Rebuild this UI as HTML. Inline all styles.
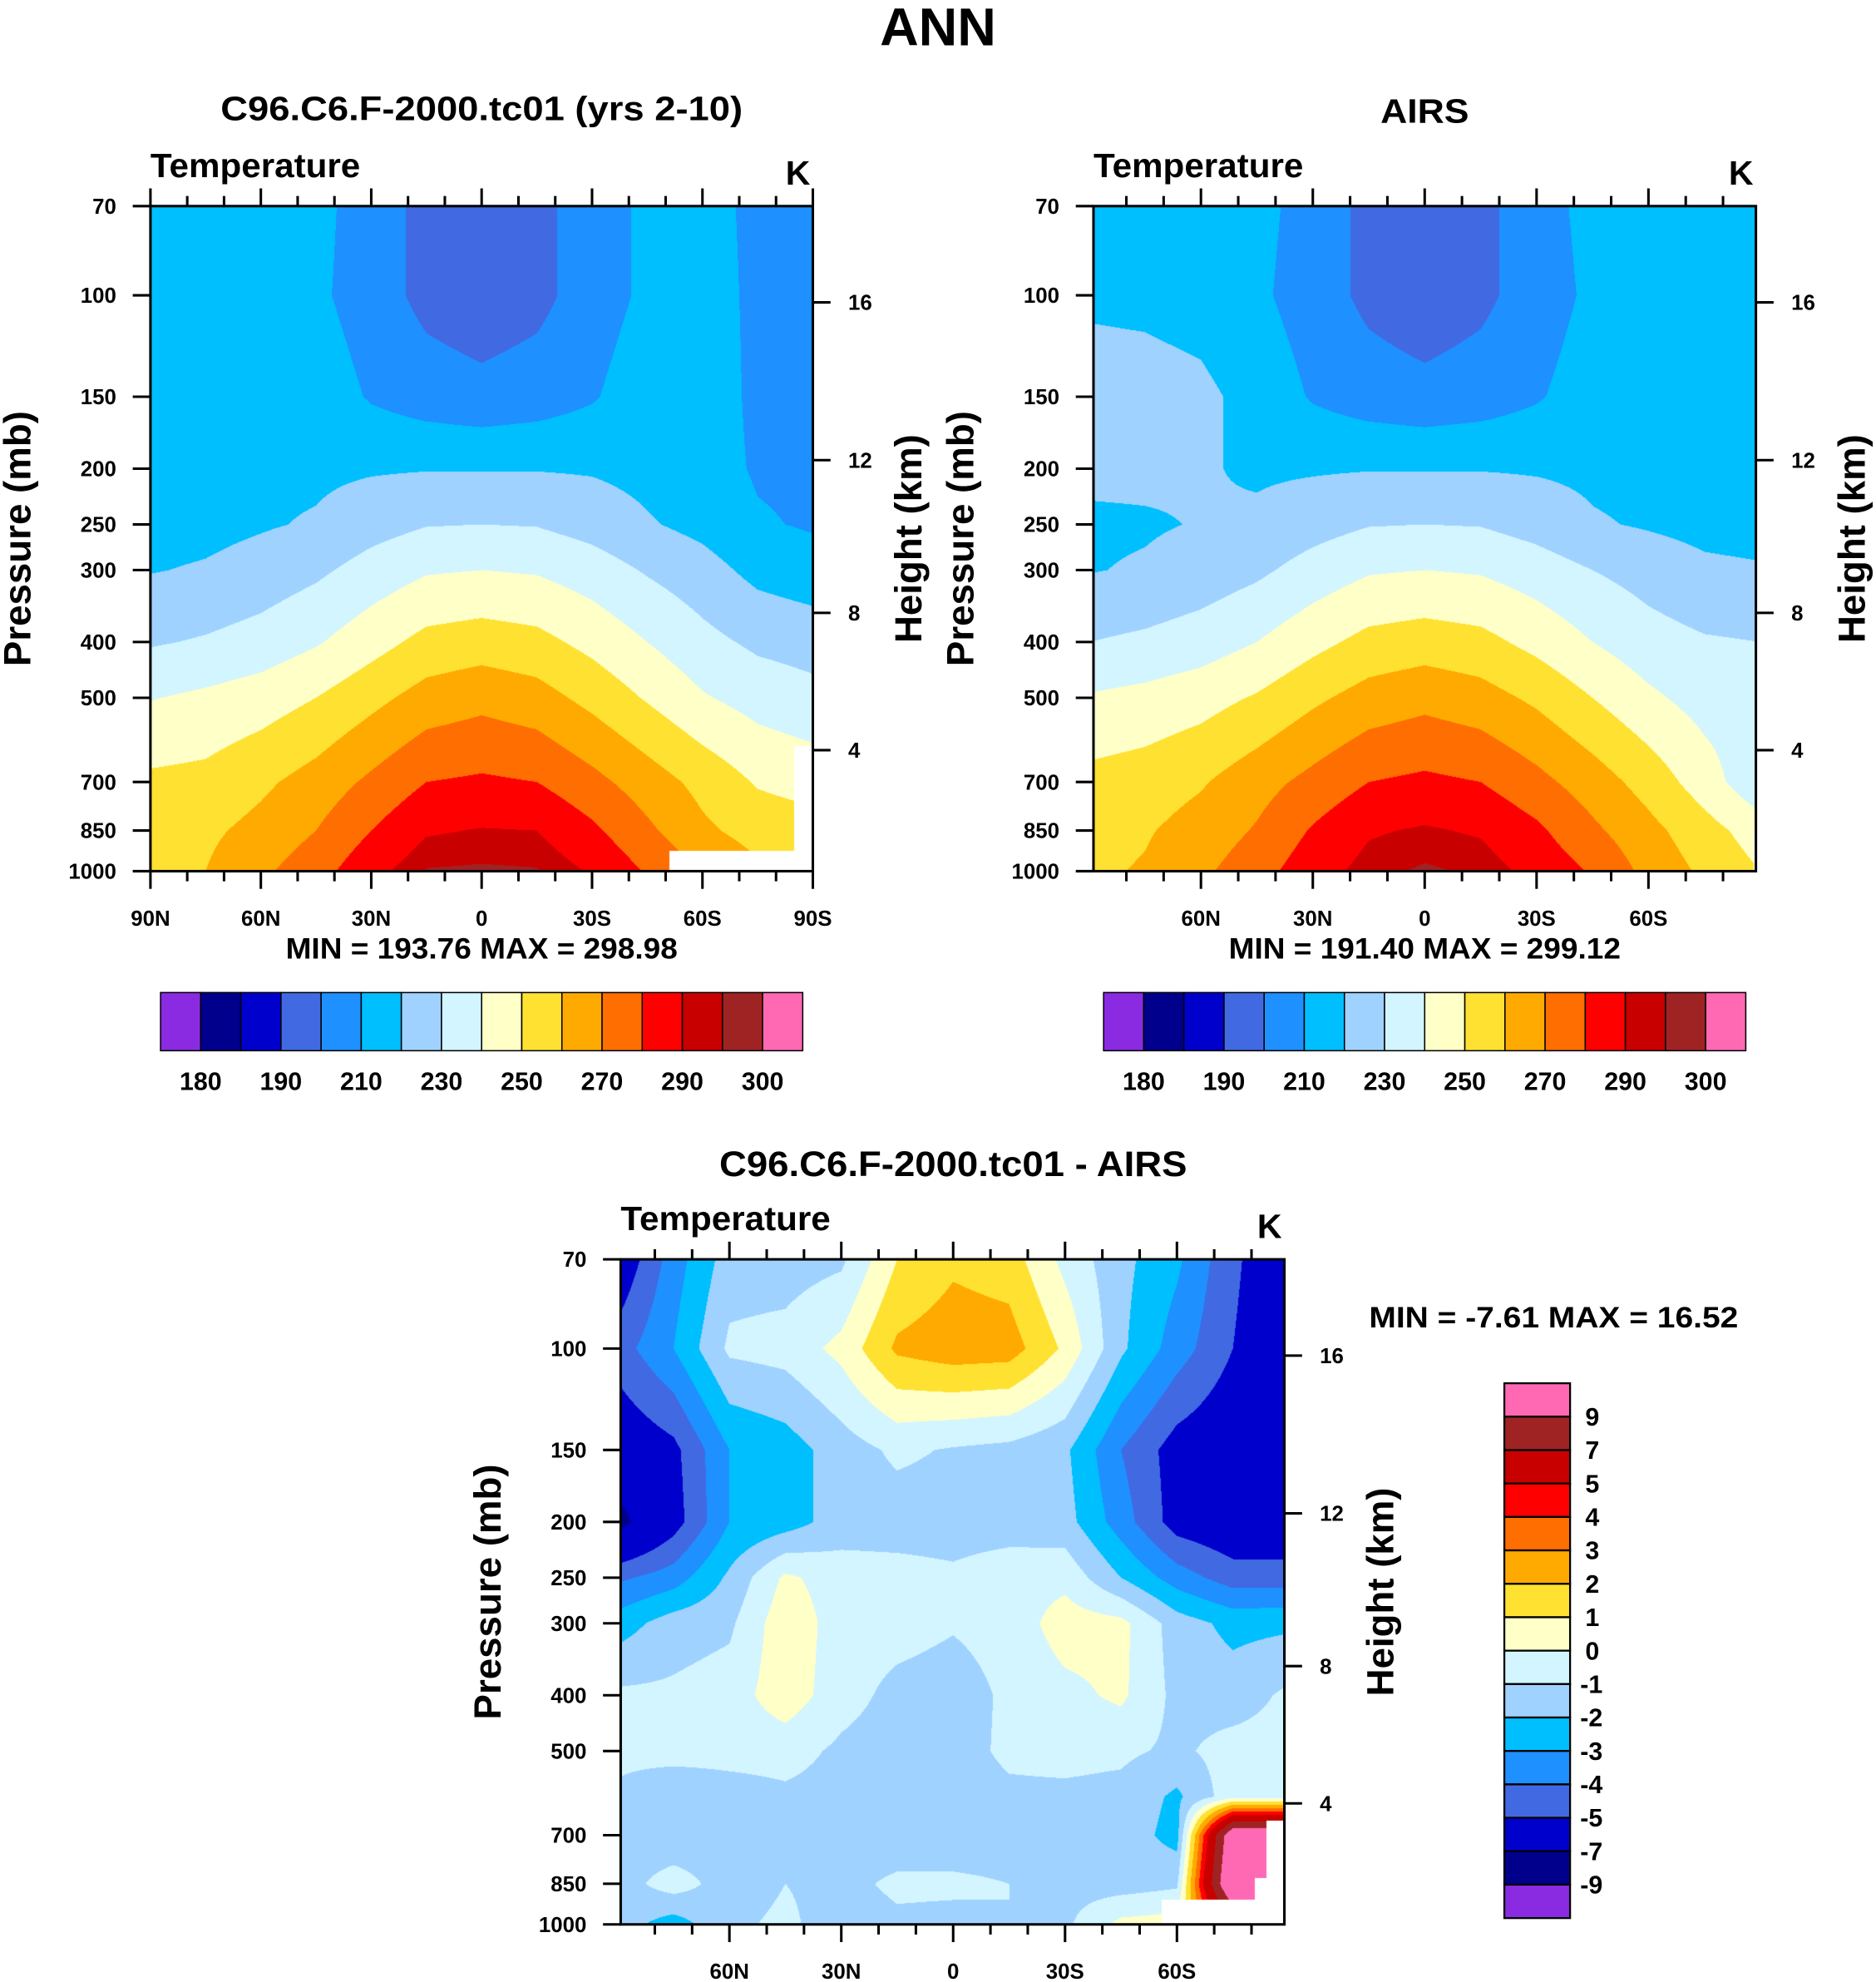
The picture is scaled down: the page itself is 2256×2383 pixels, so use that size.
<!DOCTYPE html>
<html><head><meta charset="utf-8">
<style>
html,body{margin:0;padding:0;background:#fff;}
#wrap{position:relative;width:2256px;height:2383px;overflow:hidden;background:#fff;}
canvas{position:absolute;}
svg{position:absolute;left:0;top:0;}
text{font-family:"Liberation Sans",sans-serif;font-weight:bold;fill:#000;}
</style></head>
<body>
<div id="wrap">
<canvas id="c1"></canvas>
<canvas id="c2"></canvas>
<canvas id="c3"></canvas>
<svg id="svg" width="2256" height="2383" viewBox="0 0 1484 1567.55">
<text x="742" y="36" font-size="42" text-anchor="middle" textLength="92" lengthAdjust="spacingAndGlyphs">ANN</text>
<text x="381" y="95" font-size="27" text-anchor="middle" textLength="413" lengthAdjust="spacingAndGlyphs">C96.C6.F-2000.tc01 (yrs 2-10)</text>
<text x="1127" y="97" font-size="27" text-anchor="middle" textLength="70" lengthAdjust="spacingAndGlyphs">AIRS</text>
<text x="754" y="930" font-size="28" text-anchor="middle" textLength="370" lengthAdjust="spacingAndGlyphs">C96.C6.F-2000.tc01 - AIRS</text>
<text x="381" y="758" font-size="23" text-anchor="middle" textLength="310" lengthAdjust="spacingAndGlyphs">MIN = 193.76  MAX = 298.98</text>
<text x="1127" y="758" font-size="23" text-anchor="middle" textLength="310" lengthAdjust="spacingAndGlyphs">MIN = 191.40  MAX = 299.12</text>
<text x="1083" y="1050" font-size="23" textLength="292" lengthAdjust="spacingAndGlyphs">MIN =  -7.61  MAX =  16.52</text>
</svg>
</div>
<script>
// ---------- data ----------
const levels = [70,100,150,200,250,300,400,500,700,850,1000];
const diffLevels = [70,100,150,200,250,300,400,500,600,700,850,1000];
const lats = [90,75,60,45,30,15,0,-15,-30,-45,-60,-75,-90];
const tempBounds = [180,185,190,200,210,220,230,240,250,260,270,280,290,295,300];
const tempLabels = [180,190,210,230,250,270,290,300];
const diffBounds = [-9,-7,-5,-4,-3,-2,-1,0,1,2,3,4,5,7,9];
const diffLabels = [9,7,5,4,3,2,1,0,-1,-2,-3,-4,-5,-7,-9];
const palette = ["#8A2BE2","#00008C","#0000CD","#4169E1","#1E90FF","#00BFFF","#A0D2FF","#D2F5FF","#FFFFC8","#FFE132","#FFAA00","#FF6E00","#FF0000","#C80000","#A02323","#FF69B4"];
// model temperature (rows = levels, cols = lats)
const modelT70  = [215,215,215,213,205,197,195,197,205,212,213,208,207];
const modelT100 = [216,216,216,212,205,197,194,197,205,212,214,208,207];
const modelT150 = [217,217,217,216,209,205,203,205,209,216,215,208,207];
const modelT200 = [218,218,218,218,219,219.5,219.5,219.5,219,217,214,209,208];
const modelT250 = [216,217,219,221,226,229.5,230,229.5,226,221,217,211,209];
const modelT300 = [219.5,221,224,228,234,239,240,239,235,229,224,217,214];
const modelT400 = [229,231,234,239,246,253,255,253,247,240,233,228,226];
const modelT500 = [239.5,242,245,250,257,264,267,264,257,249,241,236,233];
const modelT700 = [252,253,258,264,272,280,281.5,280,273,265,257,249,246];
const modelT850 = [255,258,263,270,280,289,290.5,290,282,272,262,256,254];
const modelT1000= [256,260,268,276,287,295.5,296,295.5,289,279,270,262,258];
// AIRS temperature
const airsT70  = [215,215,215,213,206,197,195,197,206,213,215,215,211];
const airsT100 = [218.5,218,216.5,212,205,197.5,194,197.5,205,212,216,214,210];
const airsT150 = [224,223.5,222,217,209,205,203,205,209,215,218,216,214];
const airsT200 = [222,222,221,218.5,219,219.5,219.5,219.5,219,218,217,216,215];
const airsT250 = [218.5,219,220.5,222,226,229.5,230,229.5,226,221,219,217,216];
const airsT300 = [219.5,221,224,228,234,239,240,239,235,230,226,222,221];
const airsT400 = [230,232,235,240,247,253,255,253,247,240,234,231,230];
const airsT500 = [241,243,246,251,258,264,267,264,258,250,242,236,235];
const airsT700 = [253,255,259,266,273,280,282,280,273,265,256,245,232];
const airsT850 = [256,259,264,271,281,289,291,289,282,272,263,254,245];
const airsT1000= [258,261,268,276,286,293,296,294,287,279,267,258,250];
// difference model - AIRS
const diff70  = [-6,-3.5,-1.5,-1.5,-1.2,1.0,1.8,1.5,-0.3,-1.7,-2.8,-4.8,-6];
const diff100 = [-4.5,-3,-0.8,-0.6,0.3,2.2,2.6,2.5,0.8,-1.8,-3.5,-5,-6];
const diff150 = [-6,-5.3,-3,-2.5,-1.5,-0.8,-1.1,-1.3,-1.8,-4,-5.5,-6,-6];
const diff200 = [-7.5,-5.5,-3,-2.5,-1.5,-1.5,-1.5,-1.5,-1.6,-3.5,-5.5,-6,-6];
const diff250 = [-4.2,-3.5,-1.8,0.2,-0.5,-0.6,-0.8,-0.4,-0.3,-2,-3.5,-4.5,-4.5];
const diff300 = [-2.5,-1.5,-1.2,0.7,-0.5,-0.6,-0.9,-0.6,0.5,0.3,-1.5,-2.3,-2.2];
const diff400 = [-0.8,-0.8,-0.5,0.6,-0.6,-1.3,-1.5,-0.8,-0.3,0.2,-1.3,-1.5,-0.8];
const diff500 = [-0.7,-0.5,-0.6,-0.6,-1.2,-1.5,-1.4,-0.8,-0.7,-0.8,-1.2,-0.6,-0.6];
const diff600 = [-1.2,-2,-1.5,-1.2,-1.4,-1.5,-1.5,-1.2,-1.2,-1.3,-2.2,-0.4,-0.4];
const diff700 = [-1.5,-1.8,-1.5,-1.2,-1.5,-1.6,-1.6,-1.5,-1.4,-1.4,-2.4,11,11];
const diff850 = [-1.5,-0.5,-1.5,-1.0,-1.3,-0.8,-0.8,-1.0,-1.4,-1.5,-1.2,12,12];
const diff1000= [-1.5,-2.5,-1.2,-0.8,-1.5,-1.2,-1.3,-1.0,-1.2,0.3,0.5,6,6];
// missing-data regions [latNorth, latSouth, pTop, pBottom]
const modelMissing = [[-51,-90,922,1000],[-85,-90,606,1000]];
const airsMissing = [[-88.3,-90,850,1000]];
const diffMissing = [[-56,-90,905,1000],[-84,-90,660,1000],[-81,-90,830,1000]];

const modelGrid=[modelT70,modelT100,modelT150,modelT200,modelT250,modelT300,modelT400,modelT500,modelT700,modelT850,modelT1000];
const airsGrid=[airsT70,airsT100,airsT150,airsT200,airsT250,airsT300,airsT400,airsT500,airsT700,airsT850,airsT1000];
const diffGrid=[diff70,diff100,diff150,diff200,diff250,diff300,diff400,diff500,diff600,diff700,diff850,diff1000];

// ---------- rendering ----------
const S = 2256/1484;
const NS="http://www.w3.org/2000/svg";
const svg=document.getElementById('svg');
const L=Math.log(1000/70);
function mk(tag,attrs,txt){const e=document.createElementNS(NS,tag);for(const k in attrs)e.setAttribute(k,attrs[k]);if(txt!==undefined)e.textContent=txt;svg.appendChild(e);return e;}

const panels=[
 {id:'c1',name:'model',x0:119,x1:643,y0:163,y1:689,xN:119,xS:643,grid:modelGrid,lev:levels,bounds:tempBounds,miss:modelMissing},
 {id:'c2',name:'airs',x0:865,x1:1389,y0:163,y1:689,xN:861.5,xS:1392.5,grid:airsGrid,lev:levels,bounds:tempBounds,miss:airsMissing},
 {id:'c3',name:'difference',x0:491,x1:1016,y0:996,y1:1522,xN:488.5,xS:1019.5,grid:diffGrid,lev:diffLevels,bounds:diffBounds,miss:diffMissing}
];
function yOfP(P,p){return P.y0+(P.y1-P.y0)*Math.log(p/70)/L;}
function xOfLat(P,lat){return P.xN+(P.xS-P.xN)*(90-lat)/180;}
function hToP(z){z*=1000;if(z<=11000)return 1013.25*Math.pow(1-0.0065*z/288.15,5.2559);return 226.32*Math.exp(-(z-11000)/6341.6);}
function hex(c){return [parseInt(c.substr(1,2),16),parseInt(c.substr(3,2),16),parseInt(c.substr(5,2),16)];}
const rgb=palette.map(hex);
function sample(grid,lev,lat,p){
  const lnLev=lev.map(Math.log);
  let fi=(90-lat)/15;fi=Math.max(0,Math.min(12,fi));
  const i0=Math.min(11,Math.floor(fi)),ti=fi-i0;
  const lp=Math.log(p);let j=0;
  while(j<lev.length-2&&lp>lnLev[j+1])j++;
  let tj=(lp-lnLev[j])/(lnLev[j+1]-lnLev[j]);tj=Math.max(0,Math.min(1,tj));
  const a=grid[j][i0]*(1-ti)+grid[j][i0+1]*ti;
  const b=grid[j+1][i0]*(1-ti)+grid[j+1][i0+1]*ti;
  return a*(1-tj)+b*tj;
}
function drawPanel(P){
  const cv=document.getElementById(P.id);
  const L0=Math.round(P.x0*S),T0=Math.round(P.y0*S),R0=Math.round(P.x1*S),B0=Math.round(P.y1*S);
  const w=R0-L0,h=B0-T0;
  cv.width=w;cv.height=h;cv.style.left=L0+'px';cv.style.top=T0+'px';
  const ctx=cv.getContext('2d');const img=ctx.createImageData(w,h);const d=img.data;
  for(let cy=0;cy<h;cy++){
    const Y=(T0+cy+0.5)/S;const p=70*Math.exp((Y-P.y0)/(P.y1-P.y0)*L);
    for(let cx=0;cx<w;cx++){
      const X=(L0+cx+0.5)/S;const lat=90-(X-P.xN)/(P.xS-P.xN)*180;
      const k=(cy*w+cx)*4;
      let miss=false;
      for(const m of P.miss){if(lat<=m[0]&&lat>=m[1]&&p>=m[2]&&p<=m[3]){miss=true;break;}}
      if(miss){d[k]=d[k+1]=d[k+2]=255;d[k+3]=255;continue;}
      const v=sample(P.grid,P.lev,lat,p);
      let idx=0;while(idx<P.bounds.length&&v>=P.bounds[idx])idx++;
      const c=rgb[idx];d[k]=c[0];d[k+1]=c[1];d[k+2]=c[2];d[k+3]=255;
    }
  }
  ctx.putImageData(img,0,0);
}
panels.forEach(drawPanel);

function latLabel(l){return l===0?'0':(Math.abs(l)+(l>0?'N':'S'));}
panels.forEach(P=>{
  const f=mk('rect',{x:P.x0,y:P.y0,width:P.x1-P.x0,height:P.y1-P.y0,fill:'none',stroke:'#000','stroke-width':2});
  
  
  levels.forEach(p=>{
    const y=yOfP(P,p);
    const t=mk('line',{x1:P.x0-14,x2:P.x0,y1:y,y2:y,stroke:'#000','stroke-width':2});
    
    
    const lb=mk('text',{x:P.x0-27,y:y+6,'font-size':17,'text-anchor':'end'},String(p));
    
    
  });
  [4,8,12,16].forEach(hk=>{
    const y=yOfP(P,hToP(hk));
    const t=mk('line',{x1:P.x1,x2:P.x1+14,y1:y,y2:y,stroke:'#000','stroke-width':2});
    
    
    const lb=mk('text',{x:P.x1+28,y:y+6,'font-size':17},String(hk));
    
    
  });
  for(let l=90;l>=-90;l-=10){
    const x=xOfLat(P,l);if(x<P.x0-0.6||x>P.x1+0.6)continue;
    const major=(l%30===0);const len=major?14:8;
    const t1=mk('line',{x1:x,x2:x,y1:P.y0,y2:P.y0-len,stroke:'#000','stroke-width':2});
    
    
    const t2=mk('line',{x1:x,x2:x,y1:P.y1,y2:P.y1+len,stroke:'#000','stroke-width':2});
    
    
    if(major){
      const lb=mk('text',{x:x,y:P.y1+43,'font-size':17,'text-anchor':'middle'},latLabel(l));
      
      
    }
  }
  const tt=mk('text',{x:P.x0,y:P.y0-23,'font-size':27,textLength:166,lengthAdjust:'spacingAndGlyphs'},'Temperature');
  
  
  const ku=mk('text',{x:P.x1-2,y:P.y0-17,'font-size':27,'text-anchor':'end'},'K');
  
  
  const cy=(P.y0+P.y1)/2;
  const ya=mk('text',{x:0,y:0,'font-size':30,'text-anchor':'middle',textLength:202,lengthAdjust:'spacingAndGlyphs',transform:`translate(${P.x0-95},${cy}) rotate(-90)`},'Pressure (mb)');
  
  
  const yb=mk('text',{x:0,y:0,'font-size':30,'text-anchor':'middle',textLength:165,lengthAdjust:'spacingAndGlyphs',transform:`translate(${P.x1+86},${cy}) rotate(-90)`},'Height (km)');
  
  
});

[[127,'model'],[873,'airs']].forEach(([x0,nm])=>{
  const bw=(635-127)/16;
  palette.forEach((c,i)=>{
    const r=mk('rect',{x:x0+i*bw,y:785,width:bw,height:46,fill:c,stroke:'#000','stroke-width':1});
    
    
  });
  tempLabels.forEach((v,k)=>{
    const x=x0+(2*k+1)*bw;
    const t=mk('text',{x:x,y:862,'font-size':20,'text-anchor':'middle'},String(v));
    
    
  });
});
(function(){
  const y0=1094,bh=(1517-1094)/16;
  palette.slice().reverse().forEach((c,i)=>{
    const r=mk('rect',{x:1190,y:y0+i*bh,width:52,height:bh,fill:c,stroke:'#000','stroke-width':1.5});
    
    
  });
  diffLabels.forEach((v,k)=>{
    const y=y0+(k+1)*bh;
    const t=mk('text',{x:v<0?1250:1254,y:y+7,'font-size':20},String(v));
    
    
  });
})();
</script>
</body></html>
